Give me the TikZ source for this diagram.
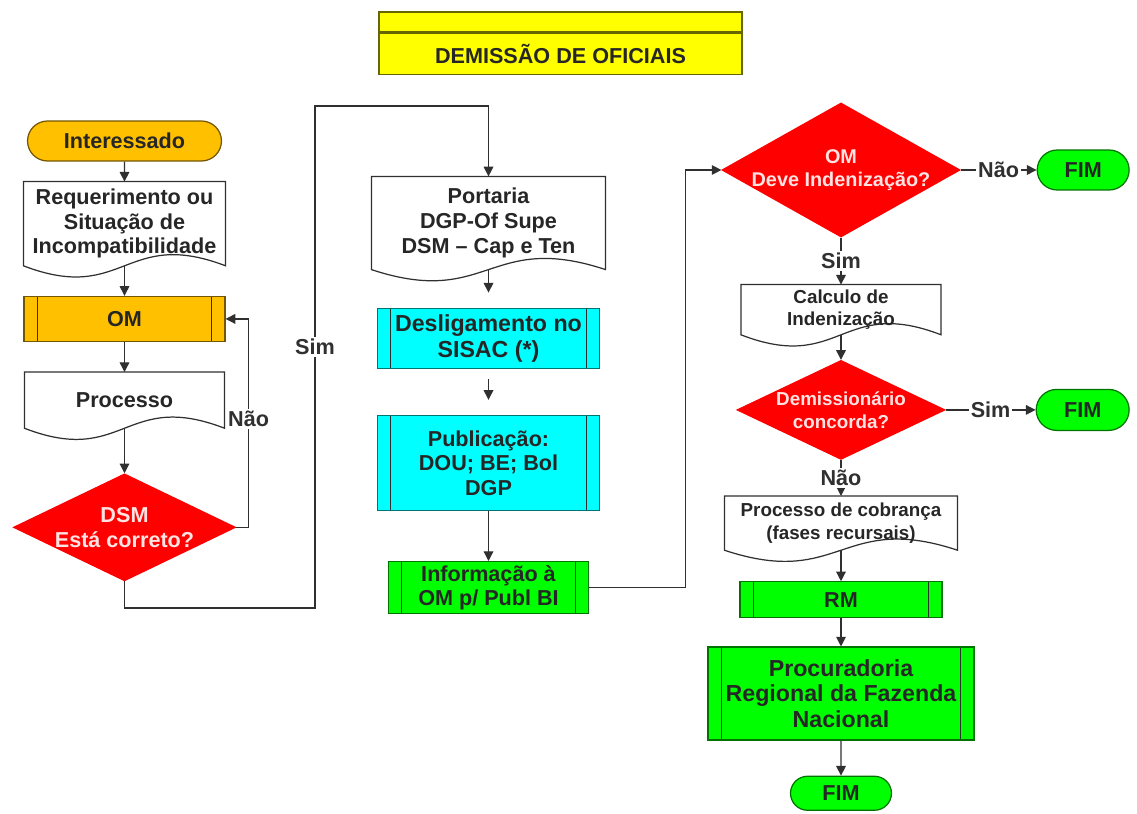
\documentclass[tikz,border=0pt]{standalone}
\usepackage{fontspec}
\setmainfont{Liberation Sans}
\usetikzlibrary{arrows.meta,positioning,shapes.geometric,shapes.misc}
\definecolor{omColor}{HTML}{FFC000}
\definecolor{checkColor}{HTML}{FF0000}
\definecolor{checkText}{HTML}{FFE2E2}
\definecolor{sisacColor}{HTML}{00FFFF}
\definecolor{publColor}{HTML}{00FF00}
\definecolor{titleColor}{HTML}{FFFF00}
\definecolor{lineColor}{HTML}{303030}

\begin{document}
\begin{tikzpicture}[x=0.02cm,y=-0.02cm,line width=0.7pt,
    >={Triangle[length=5.5pt,width=5.5pt]},align=center,
    every node/.style={font=\bfseries\fontsize{12.3}{14}\selectfont}]
    \tikzstyle{base}=[draw=lineColor,fill=white,text=black!85,line width=0.7pt,inner sep=2pt]
    \tikzstyle{extreme}=[base,rounded rectangle]
    \tikzstyle{action}=[base,rectangle,path picture={
        \draw[draw=lineColor] ([xshift=7.5pt]path picture bounding box.north west) -- ([xshift=7.5pt]path picture bounding box.south west)
        ([xshift=-7.5pt]path picture bounding box.north east) -- ([xshift=-7.5pt]path picture bounding box.south east);}]
    \tikzstyle{paper}=[base,rectangle,draw=none,fill=none,append after command={\pgfextra{\let\papernode\tikzlastnode
        \draw[draw=lineColor] (\papernode.south west) .. controls ([yshift=-22pt]\papernode.south) and ([yshift=22pt]\papernode.south) .. (\papernode.south east)
        -- (\papernode.north east) -- (\papernode.north west) -- cycle;}}]
    \tikzstyle{condition}=[base,diamond,draw=checkColor,fill=checkColor,text=checkText,inner sep=-22pt]
    \tikzstyle{label}=[fill=white,inner sep=1pt]
    % All state styles
    \tikzstyle{tituloBar}=[base,rectangle,fill=titleColor,draw=black!60!titleColor,minimum width=7.26cm]
    \tikzstyle{interessado}=[extreme,fill=omColor,draw=black!55!omColor,minimum width=4.02cm,minimum height=0.8cm]
    \tikzstyle{omStep}=[action,fill=omColor,draw=black!55!omColor]
    \tikzstyle{sisacStep}=[action,fill=sisacColor,draw=black!55!sisacColor,minimum width=4.44cm]
    \tikzstyle{publStep}=[action,fill=publColor,draw=black!55!publColor]
    \tikzstyle{fimEnd}=[extreme,fill=publColor,draw=black!55!publColor]
    \tikzstyle{small}=[font=\bfseries\fontsize{10.7}{13}\selectfont]
    % Title
    \useasboundingbox (0,0) rectangle (1137,814);
    \node (tituloTop) [tituloBar,minimum height=0.4cm] at (560.5,22) {};
    \node (titulo) [tituloBar,minimum height=0.82cm,below=0pt of tituloTop] {DEMISSÃO DE OFICIAIS};
    % All states
    \node (interessado) [interessado] at (124.5,141) {Interessado};
    \node (requerimento) [paper,minimum width=4.02cm,minimum height=1.66cm,below=0.4cm of interessado]
          {Requerimento ou\\Situação de\\Incompatibilidade};
    \node (om) [omStep,minimum width=4.02cm,minimum height=0.9cm,below=0.6cm of requerimento] {OM};
    \node (processo) [paper,minimum width=3.98cm,minimum height=1.1cm,below=0.6cm of om] {Processo};
    \node (dsm) [condition,minimum width=4.44cm,minimum height=2.14cm,below=0.9cm of processo]
          {DSM\\Está correto?};
    \node (portaria) [paper,minimum width=4.66cm,minimum height=1.84cm,font=\bfseries\fontsize{12.3}{14.2}\selectfont] at (488.5,223)
          {Portaria\\DGP-Of Supe\\DSM -- Cap e Ten};
    \node (desligamento) [sisacStep,minimum height=1.2cm,below=0.76cm of portaria,font=\bfseries\fontsize{13.2}{15}\selectfont]
          {Desligamento no\\SISAC (*)};
    \node (publicacao) [sisacStep,minimum height=1.9cm,below=0.92cm of desligamento]
          {Publicação:\\DOU; BE; Bol\\DGP};
    \node (informacao) [publStep,minimum width=4cm,minimum height=1.04cm,below=1cm of publicacao]
          {Informação à\\OM p/ Publ BI};
    \node (omCheck) [condition,minimum width=4.76cm,minimum height=2.68cm,font=\bfseries\fontsize{11.3}{13.5}\selectfont] at (841,170)
          {OM\\Deve Indenização?};
    \node (fimA) [fimEnd,minimum width=1.98cm,minimum height=0.8cm,right=1.52cm of omCheck] {FIM};
    \node (calculo) [paper,small,minimum width=3.98cm,minimum height=0.98cm,below=0.94cm of omCheck]
          {Calculo de\\Indenização};
    \node (concorda) [condition,small,minimum width=4.16cm,minimum height=1.98cm,below=0.5cm of calculo]
          {Demissionário\\concorda?};
    \node (fimB) [fimEnd,minimum width=2cm,minimum height=0.82cm,right=1.8cm of concorda] {FIM};
    \node (cobranca) [paper,small,minimum width=4.64cm,minimum height=1.06cm,below=0.72cm of concorda]
          {Processo de cobrança\\(fases recursais)};
    \node (rm) [publStep,minimum width=4.04cm,minimum height=0.72cm,below=0.62cm of cobranca] {RM};
    \node (procuradoria) [publStep,minimum width=5.32cm,minimum height=1.86cm,below=0.56cm of rm,font=\bfseries\fontsize{13.2}{14.5}\selectfont]
          {Procuradoria\\Regional da Fazenda\\Nacional};
    \node (fimC) [fimEnd,minimum width=2.16cm,minimum height=0.68cm,below=0.7cm of procuradoria] {FIM};
    \coordinate (simLow) at (315,608);
    \coordinate (simTop) at (315,106);
    % Edges
    \draw [->,lineColor] (interessado) -- (requerimento);
    \draw [->,lineColor] (requerimento) -- (om);
    \draw [->,lineColor] (om) -- (processo);
    \draw [->,lineColor] (processo) -- (dsm);
    \draw [->,lineColor] (dsm.east) -| node[label,pos=0.76] {Não} ([xshift=0.46cm]om.east) -- (om.east);
    \draw [->,lineColor] (dsm.south) |- (simLow) -- node[label,pos=0.52] {Sim} (simTop) -| (portaria.north);
    \draw [->,lineColor,shorten >=0.3cm] (portaria) -- (desligamento);
    \draw [->,lineColor,shorten <=0.2cm,shorten >=0.3cm] (desligamento) -- (publicacao);
    \draw [->,lineColor] (publicacao) -- (informacao);
    \draw [->,lineColor] (informacao.east) -| ([xshift=-0.72cm]omCheck.west) -- (omCheck.west);
    \draw [->,lineColor] (omCheck) -- node[label] {Não} (fimA);
    \draw [->,lineColor] (omCheck) -- node[label] {Sim} (calculo);
    \draw [->,lineColor] (calculo) -- (concorda);
    \draw [->,lineColor] (concorda) -- node[label] {Sim} (fimB);
    \draw [->,lineColor] (concorda) -- node[label] {Não} (cobranca);
    \draw [->,lineColor] (cobranca) -- (rm);
    \draw [->,lineColor] (rm) -- (procuradoria);
    \draw [->,lineColor] (procuradoria) -- (fimC);
\end{tikzpicture}
\end{document}
